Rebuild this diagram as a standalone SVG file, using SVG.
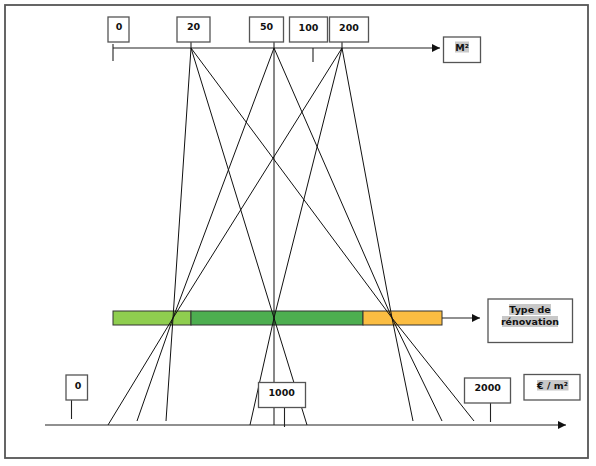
<svg xmlns="http://www.w3.org/2000/svg" width="596" height="466" viewBox="0 0 596 466">
<defs>
<style>
.box{fill:#fff;stroke:#555;stroke-width:1.3}
.ln{stroke:#111;stroke-width:1;fill:none}
.ax{stroke:#222;stroke-width:1.1;fill:none}
.t{font-family:"DejaVu Sans",sans-serif;font-weight:bold;font-size:9.5px;fill:#111;text-anchor:middle}
.hl{fill:#c8c8c8}
.bar{stroke:#333;stroke-width:1}
</style>
<marker id="ar" viewBox="0 0 10 10" refX="10" refY="5" markerWidth="8" markerHeight="8" markerUnits="userSpaceOnUse" orient="auto">
<path d="M0,0 L10,5 L0,10 z" fill="#111"/>
</marker>
</defs>
<rect x="5" y="5" width="583" height="453" fill="#fff" stroke="#555" stroke-width="1.8"/>

<g id="bar">
<rect class="bar" x="113" y="311" width="78" height="14" fill="#8fce4f"/>
<rect class="bar" x="191" y="311" width="172" height="14" fill="#4dae50"/>
<rect class="bar" x="363" y="311" width="79" height="14" fill="#fbbd42"/>
</g>

<g id="connectors">
<!-- top axis -->
<line class="ax" x1="113" y1="48" x2="440" y2="48" marker-end="url(#ar)"/>
<line class="ax" x1="113" y1="44" x2="113" y2="61"/>
<line class="ax" x1="313" y1="48" x2="313" y2="62"/>
<line class="ax" x1="191" y1="42" x2="191" y2="48"/>
<line class="ax" x1="274" y1="42" x2="274" y2="48"/>
<line class="ax" x1="342" y1="42" x2="342" y2="48"/>
<!-- fan lines -->
<polyline class="ln" points="191,48 173,318 166,421"/>
<polyline class="ln" points="274,48 173,318 137,421"/>
<polyline class="ln" points="342,48 173,318 108,425"/>
<polyline class="ln" points="191,48 274,318 307,425"/>
<polyline class="ln" points="274,48 274,318 274,425"/>
<polyline class="ln" points="342,48 274,318 250,425"/>
<polyline class="ln" points="191,48 392,318 474,421"/>
<polyline class="ln" points="274,48 392,318 442,421"/>
<polyline class="ln" points="342,48 392,318 413,421"/>
<!-- bar arrow -->
<line class="ax" x1="442" y1="318" x2="480" y2="318" marker-end="url(#ar)"/>
<!-- bottom axis -->
<line class="ax" x1="45" y1="425" x2="566" y2="425" marker-end="url(#ar)"/>
<line class="ax" x1="71.5" y1="400" x2="71.5" y2="419"/>
<line class="ax" x1="284.5" y1="407" x2="284.5" y2="427"/>
<line class="ax" x1="490.5" y1="403" x2="490.5" y2="422"/>
</g>

<g id="n-top-0"><rect class="box" x="108" y="17" width="21" height="25"/><text class="t" x="119" y="30">0</text></g>
<g id="n-top-20"><rect class="box" x="177" y="17" width="33" height="25"/><text class="t" x="193.5" y="30">20</text></g>
<g id="n-top-50"><rect class="box" x="249.5" y="17" width="34" height="25"/><text class="t" x="266.5" y="30">50</text></g>
<g id="n-top-100"><rect class="box" x="289.5" y="17" width="38" height="25"/><text class="t" x="308.5" y="30.5">100</text></g>
<g id="n-top-200"><rect class="box" x="329.5" y="17" width="39" height="25"/><text class="t" x="349" y="30.5">200</text></g>
<g id="n-m2"><rect class="box" x="443.5" y="37" width="37" height="25.5"/><rect class="hl" x="455" y="41.5" width="14" height="11"/><text class="t" x="462" y="51">M²</text></g>
<g id="n-type"><rect class="box" x="488" y="299" width="84.5" height="43.5"/>
<rect class="hl" x="509" y="304" width="42" height="11"/><rect class="hl" x="502" y="316" width="56" height="11"/>
<text class="t" x="530" y="313">Type de</text><text class="t" x="530" y="324.5">rénovation</text></g>

<g id="n-bot-0"><rect class="box" x="66" y="375" width="21.5" height="25"/><text class="t" x="78" y="388.5">0</text></g>
<g id="n-bot-1000"><rect class="box" x="258.5" y="382.5" width="47" height="25"/><text class="t" x="281.7" y="396">1000</text></g>
<g id="n-bot-2000"><rect class="box" x="464.5" y="378" width="46" height="25"/><text class="t" x="487.7" y="391">2000</text></g>
<g id="n-eur"><rect class="box" x="524" y="374.5" width="56" height="25.5"/><rect class="hl" x="537" y="380" width="31.5" height="10.5"/><text class="t" x="552.5" y="388.5">€ / m²</text></g>
</svg>
